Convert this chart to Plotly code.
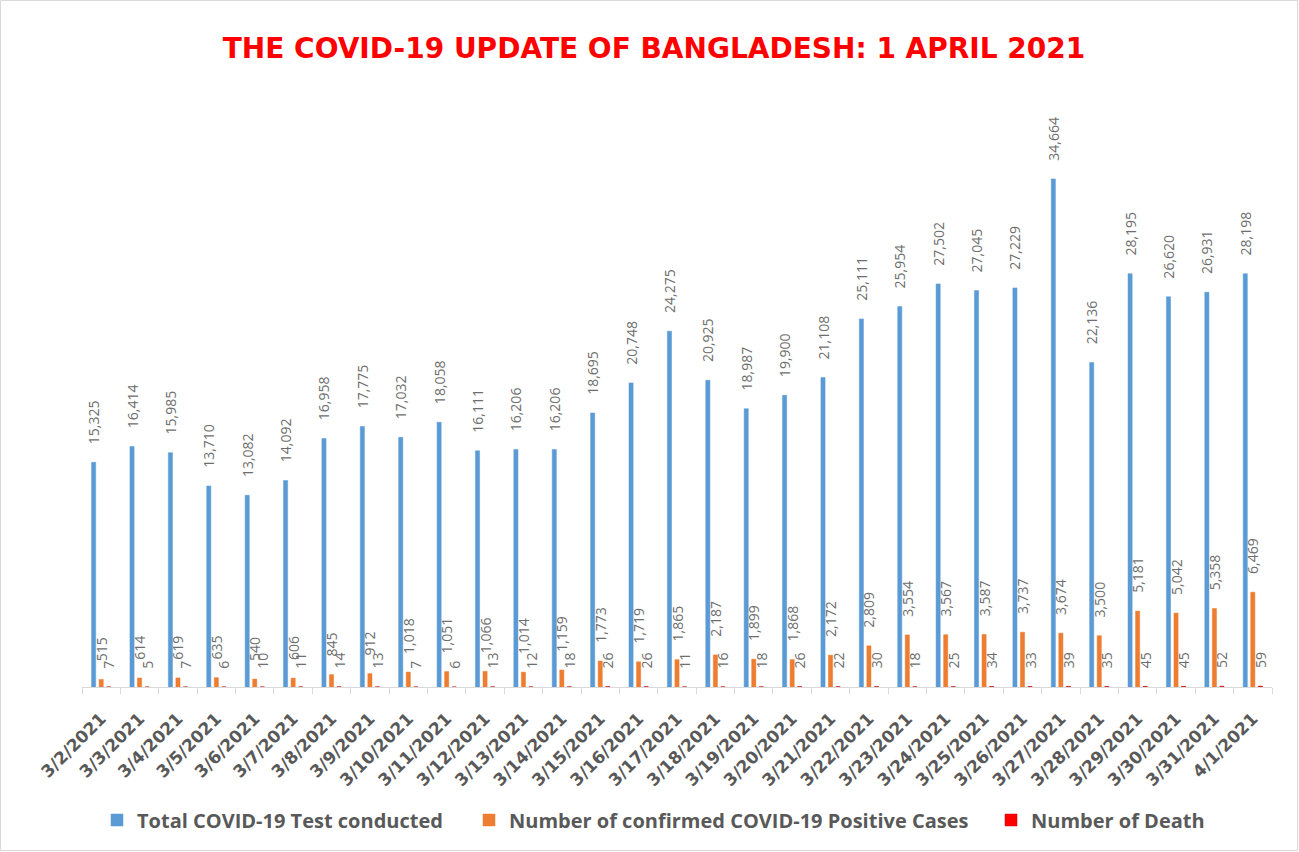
import plotly.graph_objects as go

dates = ["3/2/2021","3/3/2021","3/4/2021","3/5/2021","3/6/2021","3/7/2021","3/8/2021","3/9/2021",
         "3/10/2021","3/11/2021","3/12/2021","3/13/2021","3/14/2021","3/15/2021","3/16/2021",
         "3/17/2021","3/18/2021","3/19/2021","3/20/2021","3/21/2021","3/22/2021","3/23/2021",
         "3/24/2021","3/25/2021","3/26/2021","3/27/2021","3/28/2021","3/29/2021","3/30/2021",
         "3/31/2021","4/1/2021"]
tests = [15325,16414,15985,13710,13082,14092,16958,17775,17032,18058,16111,16206,16206,18695,
         20748,24275,20925,18987,19900,21108,25111,25954,27502,27045,27229,34664,22136,28195,
         26620,26931,28198]
positives = [515,614,619,635,540,606,845,912,1018,1051,1066,1014,1159,1773,1719,1865,2187,1899,
             1868,2172,2809,3554,3567,3587,3737,3674,3500,5181,5042,5358,6469]
deaths = [7,5,7,6,10,11,14,13,7,6,13,12,18,26,26,11,16,18,26,22,30,18,25,34,33,39,35,45,45,52,59]

W, H = 1299, 852
ML, MR, MT, MB = 82, 27, 130, 165
pw = W - ML - MR
ph = H - MT - MB

label_font = dict(family="Open Sans", size=14, color="#6E6E6E")
legend_font = dict(family="Open Sans", size=20, color="#595959", weight="bold")

def bar(name, vals, color, line_color, legend):
    return go.Bar(
        name=name, x=dates, y=vals, legend=legend,
        marker=dict(color=color, line=dict(color=line_color, width=0.5)),
        text=["\u00a0" * 5 + f"{v:,}" for v in vals],
        textposition="outside", textangle=-90,
        textfont=label_font, constraintext="none", cliponaxis=False,
    )

fig = go.Figure()
fig.add_trace(bar("Total COVID-19 Test conducted", tests, "#5B9BD5", "#5B9BD5", "legend"))
fig.add_trace(bar("Number of confirmed COVID-19 Positive Cases", positives, "#ED7D31", "#ED7D31", "legend2"))
fig.add_trace(bar("Number of Death", deaths, "#FF0000", "#C00000", "legend3"))

fig.add_shape(type="rect", xref="paper", yref="paper",
              x0=(0.5 - ML) / pw, x1=(W - 1.5 - ML) / pw,
              y0=-(MB - 1.5) / ph, y1=1 + (MT - 0.5) / ph,
              line=dict(color="#D9D9D9", width=1), fillcolor="rgba(0,0,0,0)", layer="below")

def leg(text_start_px):
    return dict(orientation="h", x=(text_start_px - 40 - ML) / pw, xanchor="left",
                y=-(820 - (H - MB)) / ph, yanchor="middle",
                font=legend_font, itemwidth=30, bgcolor="rgba(0,0,0,0)")

fig.update_layout(
    width=W, height=H,
    margin=dict(l=ML, r=MR, t=MT, b=MB, autoexpand=False),
    paper_bgcolor="white", plot_bgcolor="white",
    barmode="group", bargap=0.41, bargroupgap=0.45,
    title=dict(text="<b>THE COVID-19 UPDATE OF BANGLADESH: 1 APRIL 2021</b>",
               x=654 / W, xref="container", xanchor="center", y=1 - 48 / H, yanchor="middle",
               font=dict(family="DejaVu Sans", size=28, color="#FF0000")),
    xaxis=dict(type="category", showline=True, linecolor="#D9D9D9", linewidth=1,
               ticks="outside", tickson="boundaries", ticklen=6, tickcolor="#D9D9D9",
               tickangle=-45, showgrid=False, automargin=False, ticklabelstandoff=14,
               tickfont=dict(family="DejaVu Sans", size=17, color="#595959", weight="bold")),
    yaxis=dict(range=[0, 38000], visible=False, showgrid=False, automargin=False),
    showlegend=True,
    legend=leg(137),
    legend2=leg(509),
    legend3=leg(1031),
)

fig.write_html("out.html", config={"displayModeBar": False},
               post_script="document.body.style.margin='0';document.body.style.overflow='hidden';")
